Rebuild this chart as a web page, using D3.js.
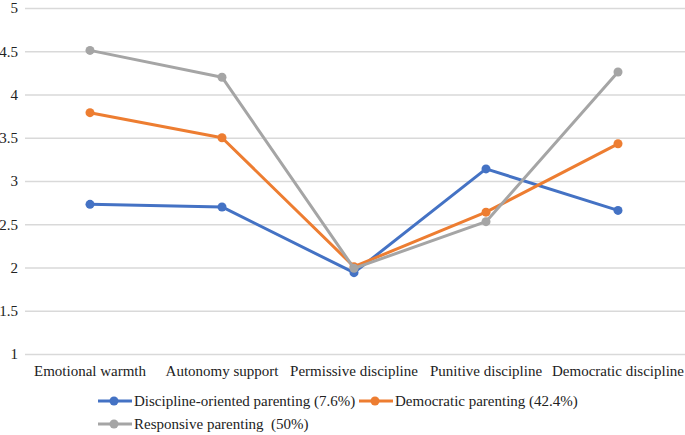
<!DOCTYPE html>
<html><head><meta charset="utf-8">
<script src="https://cdn.jsdelivr.net/npm/d3@7"></script>
<style>body{margin:0;background:#fff}svg{display:block}svg text{font-family:"Liberation Serif",serif !important}</style>
</head><body><svg id="c" width="685" height="435"></svg>
<script>
const categories = ["Emotional warmth","Autonomy support","Permissive discipline","Punitive discipline","Democratic discipline"];
const yTicks = [1,1.5,2,2.5,3,3.5,4,4.5,5];
const seriesNames = ["Discipline-oriented parenting (7.6%)","Democratic parenting (42.4%)","Responsive parenting\u00a0 (50%)"];
const disciplineOriented = [2.73,2.70,1.94,3.14,2.66];
const democratic = [3.79,3.50,2.01,2.64,3.43];
const responsive = [4.51,4.20,1.99,2.53,4.26];
const colors = ["#4472C4","#ED7D31","#A5A5A5"];
const seriesValues = [disciplineOriented, democratic, responsive];

const svg = d3.select("#c");
const x = d3.scaleBand().domain(categories).range([24,684]);
const y = d3.scaleLinear().domain([1,5]).range([354,8]);

const yAxis = svg.append("g").attr("transform","translate(25,0)")
  .call(d3.axisLeft(y).tickValues(yTicks).tickFormat(d3.format("")).tickSize(-660).tickPadding(7));
yAxis.select(".domain").remove();
yAxis.selectAll("line").attr("stroke","#D9D9D9").attr("stroke-width",1.3);
yAxis.selectAll("text").attr("font-size",15).attr("fill","#222");

const xAxis = svg.append("g").attr("transform","translate(0,354)")
  .call(d3.axisBottom(x).tickSize(0).tickPadding(11));
xAxis.select(".domain").remove();
xAxis.selectAll("text").attr("font-size",15).attr("fill","#222");

const line = d3.line().x((d,i)=>x(categories[i])+x.bandwidth()/2).y(d=>y(d));
seriesValues.forEach((vals,s)=>{
  svg.append("path").datum(vals).attr("d",line).attr("fill","none")
    .attr("stroke",colors[s]).attr("stroke-width",3).attr("stroke-linejoin","round");
  svg.selectAll(null).data(vals).enter().append("circle")
    .attr("cx",(d,i)=>x(categories[i])+x.bandwidth()/2).attr("cy",d=>y(d)).attr("r",4.5).attr("fill",colors[s]);
});

const legendPos = [[98,401],[359,401],[98,424]];
seriesNames.forEach((n,s)=>{
  const [lx,ly] = legendPos[s];
  const g = svg.append("g").attr("transform",`translate(${lx},${ly})`);
  g.append("line").attr("x1",0).attr("x2",34).attr("y1",0).attr("y2",0).attr("stroke",colors[s]).attr("stroke-width",3);
  g.append("circle").attr("cx",16).attr("cy",0).attr("r",4.5).attr("fill",colors[s]);
  g.append("text").attr("x",36).attr("y",5).attr("font-size",15).attr("fill","#222").text(n);
});
</script></body></html>
